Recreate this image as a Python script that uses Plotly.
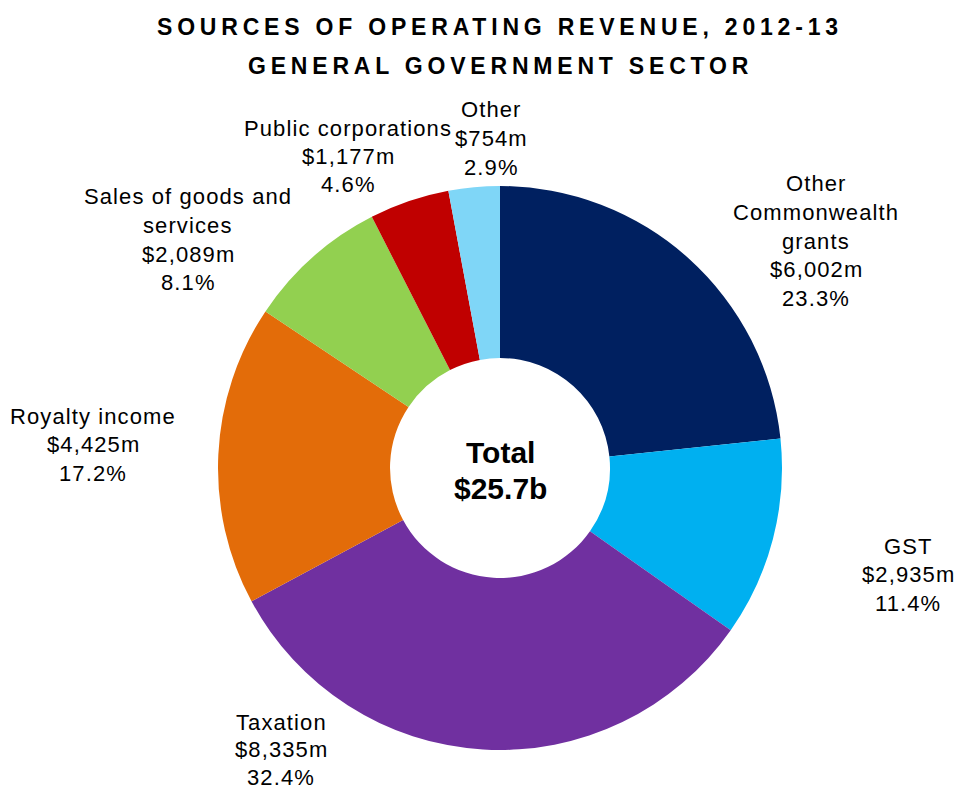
import plotly.graph_objects as go

categories = ["Other Commonwealth grants", "GST", "Taxation", "Royalty income",
              "Sales of goods and services", "Public corporations", "Other"]
values_m = [6002, 2935, 8335, 4425, 2089, 1177, 754]
percents = ["23.3%", "11.4%", "32.4%", "17.2%", "8.1%", "4.6%", "2.9%"]
name_lines = [["Other", "Commonwealth", "grants"], ["GST"], ["Taxation"], ["Royalty income"],
              ["Sales of goods and", "services"], ["Public corporations"], ["Other"]]
colors = ["#002060", "#00B0F0", "#7030A0", "#E36C09", "#92D050", "#C00000", "#7FD6F7"]
total_label = "$25.7b"

W, H = 956, 792
cx, cy, R = 500, 468, 282

fig = go.Figure(go.Pie(
    labels=categories, values=values_m, sort=False, direction="clockwise", rotation=0,
    hole=0.39, marker=dict(colors=colors, line=dict(width=0)),
    textinfo="none", hoverinfo="label+value+percent", showlegend=False,
    domain=dict(x=[(cx - R) / W, (cx + R) / W], y=[(H - cy - R) / H, (H - cy + R) / H]),
))

# label anchor positions (pixels): x centre, first line y, line spacing
label_pos = [(816, 184, 28.5), (908, 546, 28.5), (281, 722, 27.5), (93, 416, 28.5),
             (188, 197, 28.5), (348, 128, 28.5), (492, 110, 28.5)]
font = "Liberation Sans, Arial, sans-serif"
ann = []
for i, (px, py, sp) in enumerate(label_pos):
    lines = name_lines[i] + [f"${values_m[i]:,}m", percents[i]]
    for j, ln in enumerate(lines):
        ann.append(dict(x=px / W, y=1 - (py + j * sp) / H, xref="paper", yref="paper",
                        text=f'<span style="letter-spacing:1.1px">{ln}</span>', showarrow=False,
                        xanchor="center", yanchor="middle", borderpad=0,
                        font=dict(family=font, size=22, color="#000000")))

for j, ln in enumerate(["Total", total_label]):
    ann.append(dict(x=cx / W, y=1 - (452 + j * 36) / H, xref="paper", yref="paper",
                    text=f"<b>{ln}</b>", showarrow=False, xanchor="center", yanchor="middle",
                    font=dict(family=font, size=30, color="#000000", weight="bold")))

for j, ln in enumerate(["SOURCES OF OPERATING REVENUE, 2012-13", "GENERAL GOVERNMENT SECTOR"]):
    ann.append(dict(x=500 / W, y=1 - (27 + j * 39) / H, xref="paper", yref="paper",
                    text=f'<b><span style="letter-spacing:4.8px">{ln}</span></b>', showarrow=False,
                    xanchor="center", yanchor="middle",
                    font=dict(family=font, size=23, color="#000000", weight="bold")))

fig.update_layout(width=W, height=H, margin=dict(l=0, r=0, t=0, b=0),
                  paper_bgcolor="white", plot_bgcolor="white", annotations=ann)
fig.write_html("out.html", config={"displayModeBar": False},
               post_script="document.body.style.margin='0';document.body.style.overflow='hidden';")
